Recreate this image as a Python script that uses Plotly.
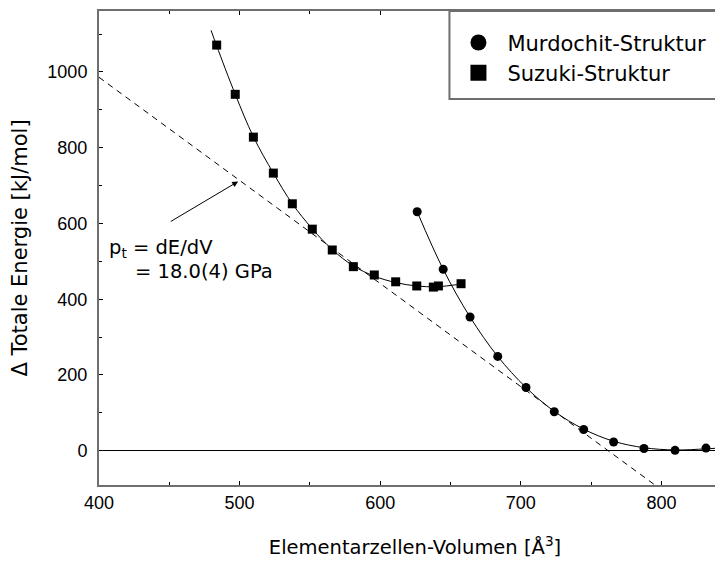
import plotly.graph_objects as go

# Data
suzuki_v = [483.7, 496.9, 509.8, 524.0, 537.5, 551.7, 565.9, 580.9, 595.8, 611.0, 626.0, 637.8, 641.4, 657.5]
suzuki_e = [1071, 941, 828, 733, 652, 585, 530, 486, 464, 446, 435, 432, 435, 441]

murdochit_v = [626.3, 644.8, 663.9, 683.6, 703.7, 723.8, 744.7, 766.0, 787.6, 809.7, 831.7]
murdochit_e = [631, 479, 353, 249, 167, 103, 56, 23, 6, 1, 7]

# fitted curves
suzuki_fit_v = [479.7, 483.7, 496.9, 509.8, 524.0, 537.5, 551.7, 565.9, 580.9, 595.8, 611.0, 626.0, 640.0, 657.5]
suzuki_fit_e = [1110, 1069, 941, 829, 733, 652, 586, 531, 488, 461, 444, 435, 433, 440]

murdochit_fit_v = [626.3, 644.8, 663.9, 683.6, 703.7, 723.8, 744.7, 766.0, 787.6, 809.7, 831.7, 849.0]
murdochit_fit_e = [631, 479, 353, 249, 167, 104, 57, 25, 8, 2, 5, 9]

# tangent (common tangent line)
tangent_v = [400, 795.4]
tangent_e = [986, -90.5]

x_ticks = [400, 500, 600, 700, 800]
y_ticks = [0, 200, 400, 600, 800, 1000]

FONT = "DejaVu Sans"

fig = go.Figure()

fig.add_trace(go.Scatter(x=tangent_v, y=tangent_e, mode="lines",
                         line=dict(color="black", width=1, dash="6px,5px"),
                         showlegend=False, hoverinfo="skip"))
fig.add_trace(go.Scatter(x=suzuki_fit_v, y=suzuki_fit_e, mode="lines",
                         line=dict(color="black", width=1, shape="spline", smoothing=1),
                         showlegend=False, hoverinfo="skip"))
fig.add_trace(go.Scatter(x=murdochit_fit_v, y=murdochit_fit_e, mode="lines",
                         line=dict(color="black", width=1, shape="spline", smoothing=1),
                         showlegend=False, hoverinfo="skip"))
fig.add_trace(go.Scatter(x=suzuki_v, y=suzuki_e, mode="markers",
                         marker=dict(symbol="square", size=9, color="black"),
                         showlegend=False))
fig.add_trace(go.Scatter(x=murdochit_v, y=murdochit_e, mode="markers",
                         marker=dict(symbol="circle", size=9, color="black"),
                         showlegend=False))
# legend entries
fig.add_trace(go.Scatter(x=[None], y=[None], mode="markers", name="Murdochit-Struktur",
                         marker=dict(symbol="circle", size=16, color="black")))
fig.add_trace(go.Scatter(x=[None], y=[None], mode="markers", name="Suzuki-Struktur",
                         marker=dict(symbol="square", size=16, color="black")))

# arrow and label
fig.add_annotation(x=499, y=711, ax=450, ay=603, xref="x", yref="y", axref="x", ayref="y",
                   text="", showarrow=True, arrowhead=2, arrowsize=1.2, arrowwidth=1,
                   arrowcolor="black")
fig.add_annotation(x=405.5, y=534, xref="x", yref="y", xanchor="left", yanchor="middle",
                   text="p<sub>t</sub> = dE/dV", showarrow=False,
                   font=dict(family=FONT, size=19.5, color="black"))
fig.add_annotation(x=424.5, y=473, xref="x", yref="y", xanchor="left", yanchor="middle",
                   text="= 18.0(4) GPa", showarrow=False,
                   font=dict(family=FONT, size=19.5, color="black"))

# legend frame (open to the right, as in the original)
fig.add_shape(type="rect", xref="paper", yref="paper",
              x0=0.5545, x1=1.1, y0=0.8145, y1=1.0,
              line=dict(color="#6e6e6e", width=2), fillcolor="white", layer="above")

axis_common = dict(
    showline=True, linecolor="#6e6e6e", linewidth=2,
    ticks="inside", ticklen=4, tickcolor="black", tickwidth=1,
    showgrid=False, automargin=False,
    tickfont=dict(family="Liberation Sans", size=18, color="black"),
)

fig.update_xaxes(
    **axis_common,
    range=[400, 849.5], tickvals=x_ticks, ticktext=[str(v) for v in x_ticks],
    mirror="allticks", zeroline=False,
    minor=dict(ticks="inside", ticklen=3, tickcolor="black", dtick=50, tick0=400),
    ticklabelstandoff=0,
    title=dict(text="Elementarzellen-Volumen [Å<sup>3</sup>]",
               font=dict(family=FONT, size=19.5, color="black"), standoff=29),
)
fig.update_yaxes(
    **axis_common,
    range=[-90.5, 1161], tickvals=y_ticks, ticktext=[str(v) for v in y_ticks],
    mirror=False, zeroline=True, zerolinecolor="black", zerolinewidth=1.2,
    minor=dict(ticks="inside", ticklen=3, tickcolor="black", dtick=100, tick0=0),
    ticklabelstandoff=6,
    title=dict(text="Δ Totale Energie [kJ/mol]",
               font=dict(family=FONT, size=21, color="black"), standoff=14),
)

fig.update_layout(
    width=723, height=562,
    margin=dict(l=91, r=0, t=3, b=85, autoexpand=False),
    plot_bgcolor="white", paper_bgcolor="white",
    font=dict(family=FONT, color="black"),
    legend=dict(x=0.5545, y=0.976, xanchor="left", yanchor="top",
                bgcolor="rgba(0,0,0,0)", borderwidth=0,
                font=dict(family=FONT, size=21, color="black"),
                itemwidth=48, tracegroupgap=0),
    showlegend=True,
)

fig.write_html("out.html")
